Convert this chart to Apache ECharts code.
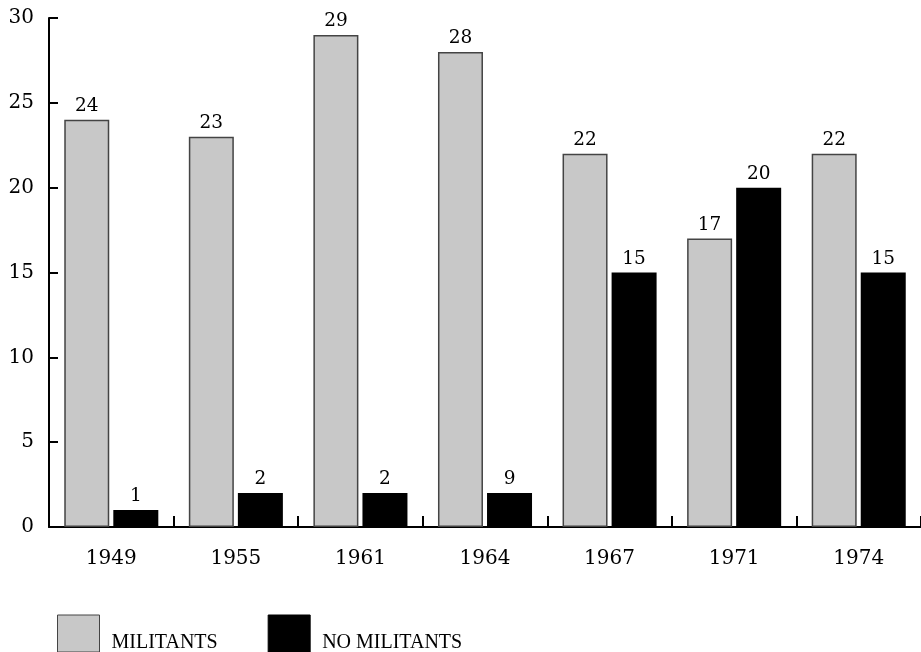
<!DOCTYPE html>
<html>
<head>
<meta charset="utf-8">
<script src="https://cdn.jsdelivr.net/npm/echarts@6/dist/echarts.min.js"></script>
<style>html,body{margin:0;padding:0;background:#fff;}#c{width:921px;height:652px;}</style>
</head>
<body>
<div id="c"></div>
<script>
const categories = ['1949','1955','1961','1964','1967','1971','1974'];
const militants = [24, 23, 29, 28, 22, 17, 22];
const noMilitants = [1, 2, 2, 2, 15, 20, 15];
const militantsLabels = ['24','23','29','28','22','17','22'];
const noMilitantsLabels = ['1','2','2','9','15','20','15'];
const yTicks = [0, 5, 10, 15, 20, 25, 30];

const chart = echarts.init(document.getElementById('c'), null, {renderer: 'canvas'});
const serif = 'DejaVu Serif';
chart.setOption({
  animation: false,
  backgroundColor: '#fff',
  grid: {left: 49, top: 18, right: -3, bottom: 125, containLabel: false},
  legend: {
    left: 57, top: 614, padding: 0,
    itemWidth: 42, itemHeight: 37, itemGap: 50,
    formatter: name => '\n' + name,
    textStyle: {fontFamily: 'Liberation Serif', fontSize: 20, lineHeight: 19, color: '#000', padding: [0, 0, 0, 7]},
    data: [
      {name: 'MILITANTS', icon: 'rect', itemStyle: {color: '#c8c8c8', borderColor: '#444', borderWidth: 1}},
      {name: 'NO MILITANTS', icon: 'rect', itemStyle: {color: '#000', borderColor: '#000', borderWidth: 1}}
    ]
  },
  xAxis: {
    type: 'category',
    data: categories,
    axisLine: {lineStyle: {color: '#000', width: 2}},
    axisTick: {show: true, inside: true, length: 11, alignWithLabel: false, lineStyle: {color: '#000', width: 2}},
    axisLabel: {fontFamily: serif, fontSize: 20, color: '#000', margin: 22}
  },
  yAxis: {
    type: 'value', min: 0, max: 30, interval: 5,
    splitLine: {show: false},
    axisLine: {show: true, lineStyle: {color: '#000', width: 2}},
    axisTick: {show: true, inside: true, length: 9, lineStyle: {color: '#000', width: 2}},
    axisLabel: {fontFamily: serif, fontSize: 20, color: '#000', margin: 15,
      formatter: v => yTicks.includes(v) ? String(v) : ''}
  },
  series: [
    {
      name: 'MILITANTS', type: 'bar', data: militants,
      barWidth: 45, barGap: '9%', barCategoryGap: '24%',
      itemStyle: {color: '#c8c8c8', borderColor: '#444', borderWidth: 1.5},
      label: {show: true, position: 'top', distance: 4, fontFamily: serif, fontSize: 18.5, color: '#000',
        formatter: p => militantsLabels[p.dataIndex]}
    },
    {
      name: 'NO MILITANTS', type: 'bar', data: noMilitants,
      barWidth: 45, barGap: '9%',
      itemStyle: {color: '#000', borderColor: '#000', borderWidth: 0},
      label: {show: true, position: 'top', distance: 4, fontFamily: serif, fontSize: 18.5, color: '#000',
        formatter: p => noMilitantsLabels[p.dataIndex]}
    }
  ]
});
</script>
</body>
</html>
